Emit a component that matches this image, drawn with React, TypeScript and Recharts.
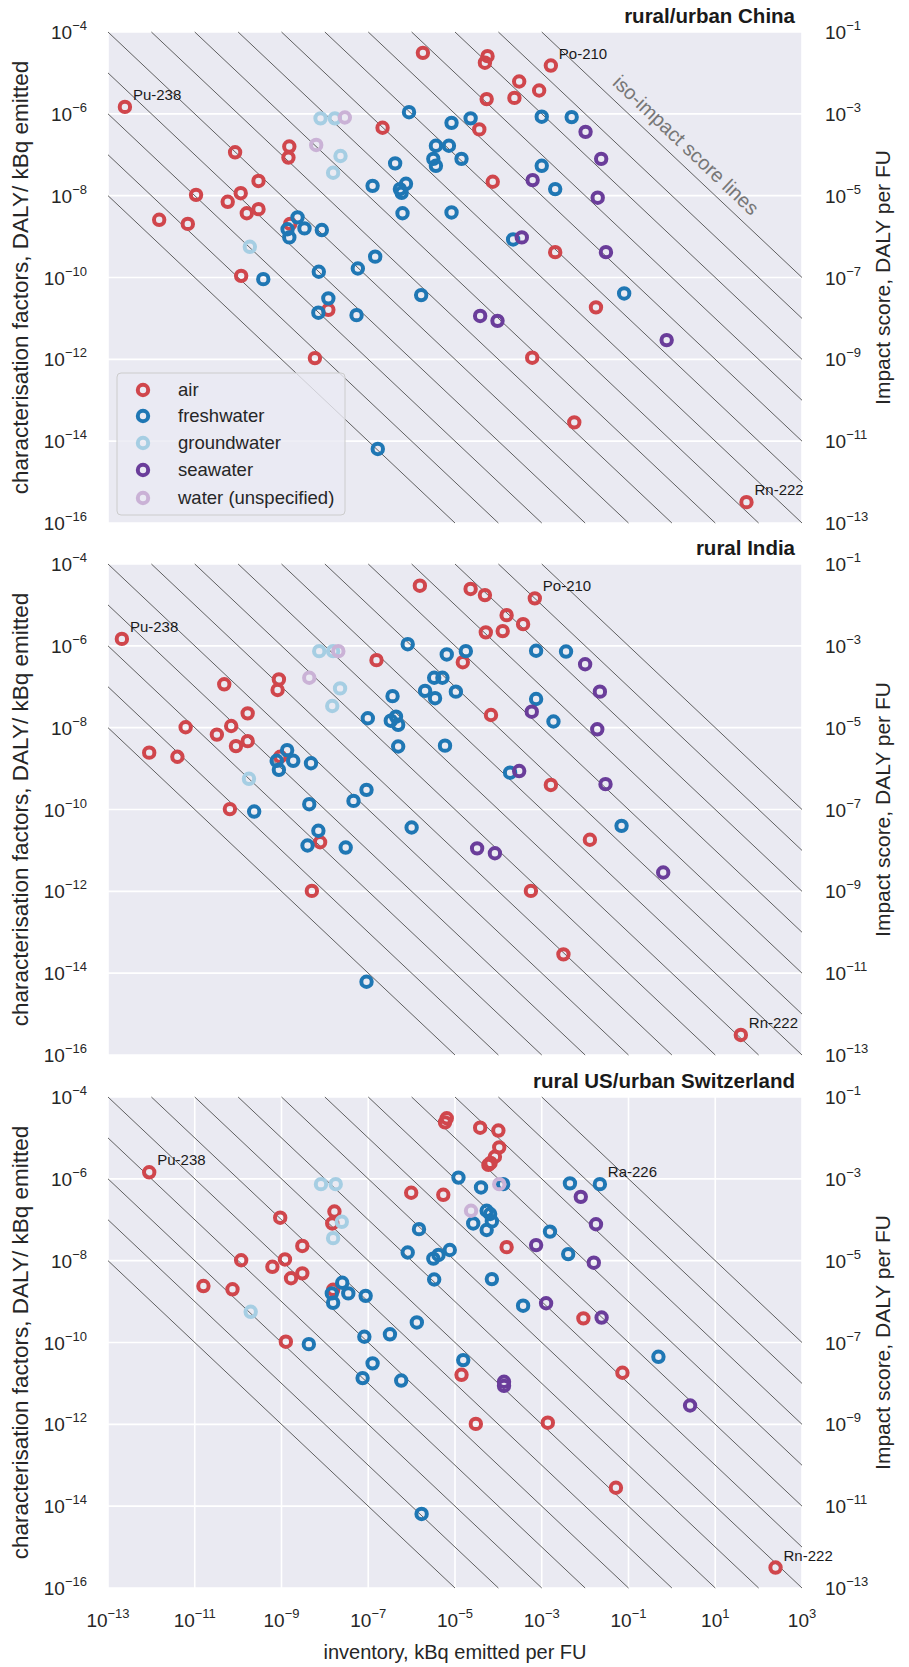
import React from "react";
import { CartesianGrid, Scatter, ScatterChart, XAxis, YAxis } from "recharts";

// each point: [log10 inventory (kBq per FU), log10 characterisation factor (DALY/kBq)]
type Pt = [number, number];

const xTicks = [-13, -11, -9, -7, -5, -3, -1, 1, 3];
const cfTicks = [-16, -14, -12, -10, -8, -6, -4];
const impactTicks = [-13, -11, -9, -7, -5, -3, -1];
// iso-impact score lines: inventory x CF = 10^k
const isoImpactExponents = [-21, -20, -19, -18, -17, -16, -15, -14, -13, -12, -11, -10, -9, -8, -7];

// --- rural/urban China ---
const chinaAir: Pt[] = [
  [-12.61, -5.83], [-2.79, -4.82], [1.72, -15.49],
  [-5.74, -4.51], [-4.25, -4.59], [-4.31, -4.75], [-4.27, -5.64], [-3.52, -5.21], [-3.06, -5.43],
  [-3.63, -5.61], [-6.67, -6.34], [-4.44, -6.38], [-10.07, -6.94], [-8.82, -6.8], [-8.84, -7.07],
  [-4.13, -7.66], [-9.53, -7.64], [-10.97, -7.98], [-9.94, -7.94], [-10.24, -8.15], [-9.8, -8.43],
  [-9.53, -8.33], [-11.82, -8.59], [-11.16, -8.69], [-8.8, -8.69], [-9.93, -9.96], [-7.92, -10.79],
  [-8.23, -11.97], [-2.69, -9.38], [-1.75, -10.73], [-3.22, -11.96], [-2.25, -13.54],
];
const chinaFresh: Pt[] = [
  [-6.06, -5.96], [-5.08, -6.22], [-4.64, -6.11], [-5.44, -6.78], [-5.14, -6.78], [-5.5, -7.1],
  [-5.44, -7.27], [-4.85, -7.1], [-6.38, -7.21], [-6.9, -7.76], [-6.27, -7.84], [-6.13, -7.71],
  [-6.23, -7.93], [-6.21, -8.43], [-5.08, -8.41], [-8.63, -8.53], [-8.86, -8.82], [-8.47, -8.8],
  [-8.82, -9.02], [-8.07, -8.84], [-6.84, -9.49], [-8.14, -9.86], [-7.24, -9.78], [-9.42, -10.04],
  [-7.92, -10.51], [-8.15, -10.86], [-7.27, -10.92], [-5.78, -10.43], [-6.78, -14.19], [-3.0, -6.07],
  [-2.31, -6.08], [-3.0, -7.27], [-2.69, -7.84], [-3.66, -9.07], [-1.1, -10.39],
];
const chinaGround: Pt[] = [[-8.1, -6.11], [-7.77, -6.11], [-7.64, -7.03], [-7.81, -7.44], [-9.73, -9.25]];
const chinaSea: Pt[] = [
  [-1.99, -6.44], [-1.63, -7.1], [-3.21, -7.62], [-1.71, -8.05], [-3.46, -9.02], [-1.52, -9.38],
  [-4.42, -10.94], [-4.02, -11.06], [-0.12, -11.53],
];
const chinaWater: Pt[] = [[-7.54, -6.09], [-8.2, -6.76]];

// --- rural India ---
const indiaAir: Pt[] = [
  [-12.68, -5.83], [-3.16, -4.84], [1.59, -15.51],
  [-5.81, -4.53], [-4.64, -4.61], [-4.31, -4.76], [-4.29, -5.67], [-3.81, -5.25], [-3.43, -5.47],
  [-3.9, -5.64], [-6.81, -6.35], [-4.82, -6.4], [-10.32, -6.94], [-9.06, -6.82], [-9.09, -7.08],
  [-4.17, -7.69], [-9.78, -7.65], [-11.21, -7.99], [-10.16, -7.96], [-10.49, -8.17], [-9.78, -8.33],
  [-10.05, -8.45], [-12.05, -8.61], [-11.4, -8.71], [-9.03, -8.71], [-10.19, -9.99], [-8.11, -10.8],
  [-8.3, -11.99], [-2.79, -9.4], [-1.89, -10.74], [-3.25, -11.99], [-2.5, -13.54],
];
const indiaFresh: Pt[] = [
  [-6.09, -5.96], [-5.19, -6.21], [-4.75, -6.13], [-5.48, -6.78], [-5.29, -6.78], [-5.69, -7.1],
  [-5.46, -7.28], [-4.98, -7.12], [-6.44, -7.23], [-7.01, -7.77], [-6.48, -7.83], [-6.36, -7.73],
  [-6.31, -7.93], [-6.31, -8.46], [-5.23, -8.44], [-8.87, -8.55], [-9.11, -8.81], [-8.73, -8.81],
  [-9.06, -9.03], [-8.32, -8.87], [-7.04, -9.52], [-8.36, -9.87], [-7.34, -9.79], [-9.63, -10.05],
  [-6.0, -10.44], [-8.15, -10.52], [-8.4, -10.88], [-7.52, -10.93], [-7.04, -14.21], [-3.13, -6.12],
  [-2.44, -6.14], [-3.13, -7.3], [-2.73, -7.85], [-3.73, -9.1], [-1.16, -10.4],
];
const indiaGround: Pt[] = [[-8.13, -6.13], [-7.81, -6.13], [-7.65, -7.04], [-7.83, -7.47], [-9.75, -9.25]];
const indiaSea: Pt[] = [
  [-2.0, -6.45], [-1.66, -7.12], [-3.23, -7.61], [-1.72, -8.04], [-3.52, -9.06], [-1.53, -9.38],
  [-4.49, -10.95], [-4.08, -11.07], [-0.2, -11.54],
];
const indiaWater: Pt[] = [[-7.69, -6.13], [-8.36, -6.78]];

// --- rural US/urban Switzerland ---
const swissAir: Pt[] = [
  [-12.05, -5.84], [2.39, -15.5],
  [-5.19, -4.52], [-5.23, -4.62], [-4.42, -4.75], [-4.0, -4.82], [-3.98, -5.23], [-4.08, -5.46],
  [-4.23, -5.66], [-4.18, -5.61], [-6.01, -6.34], [-5.27, -6.39], [-9.03, -6.95], [-7.78, -6.8],
  [-7.83, -7.09], [-8.52, -7.64], [-9.93, -7.99], [-8.92, -7.97], [-9.21, -8.15], [-8.52, -8.31],
  [-8.78, -8.43], [-10.8, -8.62], [-10.13, -8.7], [-7.81, -8.71], [-8.9, -9.98], [-3.81, -7.67],
  [-2.04, -9.41], [-4.85, -10.79], [-4.52, -11.99], [-1.14, -10.74], [-2.86, -11.96], [-1.29, -13.55],
];
const swissFresh: Pt[] = [
  [-1.66, -6.13],
  [-4.92, -5.97], [-4.4, -6.21], [-3.89, -6.13], [-2.35, -6.11], [-4.27, -6.78], [-4.19, -6.86],
  [-4.58, -7.09], [-4.27, -7.25], [-4.15, -7.04], [-2.81, -7.29], [-2.39, -7.84], [-4.15, -8.45],
  [-3.43, -9.1], [-0.31, -10.35], [-5.83, -7.23], [-6.09, -7.8], [-5.5, -7.95], [-5.38, -7.86],
  [-5.12, -7.74], [-5.48, -8.46], [-7.6, -8.54], [-7.84, -8.8], [-7.46, -8.8], [-7.81, -9.03],
  [-7.06, -8.86], [-5.88, -9.51], [-6.5, -9.8], [-7.09, -9.86], [-8.37, -10.04], [-6.9, -10.51],
  [-7.13, -10.87], [-6.24, -10.93], [-4.81, -10.43], [-5.77, -14.19],
];
const swissGround: Pt[] = [[-8.09, -6.13], [-7.75, -6.13], [-7.61, -7.05], [-7.81, -7.45], [-9.71, -9.25]];
const swissSea: Pt[] = [
  [-2.1, -6.44], [-1.75, -7.11], [-3.13, -7.62], [-1.8, -8.05], [-2.9, -9.04], [-1.62, -9.39],
  [-3.87, -10.96], [-3.87, -11.06], [0.42, -11.54],
];
const swissWater: Pt[] = [[-4.63, -6.78], [-3.98, -6.13]];

const compartments = [
  { name: "air", color: "#d0464c" },
  { name: "freshwater", color: "#1f77b4" },
  { name: "groundwater", color: "#a6cee3" },
  { name: "seawater", color: "#6a3d9a" },
  { name: "water (unspecified)", color: "#cab2d6" },
];

const panels = [
  {
    title: "rural/urban China",
    top: 32,
    series: [chinaAir, chinaFresh, chinaGround, chinaSea, chinaWater],
    labels: [{ name: "Pu-238", pt: chinaAir[0] }, { name: "Po-210", pt: chinaAir[1] }, { name: "Rn-222", pt: chinaAir[2] }],
  },
  {
    title: "rural India",
    top: 564,
    series: [indiaAir, indiaFresh, indiaGround, indiaSea, indiaWater],
    labels: [{ name: "Pu-238", pt: indiaAir[0] }, { name: "Po-210", pt: indiaAir[1] }, { name: "Rn-222", pt: indiaAir[2] }],
  },
  {
    title: "rural US/urban Switzerland",
    top: 1097,
    series: [swissAir, swissFresh, swissGround, swissSea, swissWater],
    labels: [{ name: "Pu-238", pt: swissAir[0] }, { name: "Ra-226", pt: swissFresh[0] }, { name: "Rn-222", pt: swissAir[1] }],
  },
];

const FONT = "'Liberation Sans', Arial, Helvetica, sans-serif";
const INK = "#262626";
const PLOT_H = 491;
const PAD_TOP = 30;

const expText = (e: number) => (e < 0 ? "\u2212" + Math.abs(e) : String(e));

const Pow = ({ x, y, e, anchor }: { x: number; y: number; e: number; anchor: "start" | "middle" | "end" }) => (
  <text x={x} y={y} textAnchor={anchor} fontSize={19} fill={INK} fontFamily={FONT}>
    10
    <tspan dy={-9} fontSize={13}>
      {expText(e)}
    </tspan>
  </text>
);

const LeftTick = (p: any) => <Pow x={p.x - 21} y={p.y + 7} e={p.payload.value} anchor="end" />;
const RightTick = (p: any) => <Pow x={p.x + 23} y={p.y + 7} e={p.payload.value} anchor="start" />;
const BottomTick = (p: any) => <Pow x={p.x} y={p.y + 39} e={p.payload.value} anchor="middle" />;

const isoSegment = (k: number) => {
  const x0 = Math.max(-13, k + 4);
  const x1 = Math.min(3, k + 16);
  return [
    { x: x0, y: k - x0 },
    { x: x1, y: k - x1 },
  ];
};

const ring = (color: string) => (p: any) =>
  <circle cx={p.cx} cy={p.cy} r={5.2} fill="none" stroke={color} strokeWidth={4} />;

const noMark = () => <g />;

const nameLabel = (p: any) => (
  <text x={p.cx + 8} y={p.cy - 7} fontSize={15} fill="#1a1a1a" fontFamily={FONT}>
    {p.payload.name}
  </text>
);

const Panel = ({ panel, showX }: { panel: (typeof panels)[number]; showX: boolean }) => {
  const xAxisH = showX ? 40 : 1;
  const height = PAD_TOP + PLOT_H + xAxisH + 10;
  return (
    <div style={{ position: "absolute", left: 0, top: panel.top - PAD_TOP }}>
      <ScatterChart width={909} height={height} margin={{ top: PAD_TOP, right: 20, bottom: 10, left: 20 }}>
        <CartesianGrid fill="#eaeaf2" stroke="#ffffff" strokeWidth={1.6} />
        <XAxis
          type="number"
          dataKey="x"
          domain={[-13, 3]}
          ticks={xTicks}
          height={xAxisH}
          axisLine={false}
          tickLine={false}
          tickSize={0}
          tickMargin={0}
          tick={showX ? BottomTick : false}
        />
        <YAxis
          type="number"
          dataKey="y"
          domain={[-16, -4]}
          ticks={cfTicks}
          width={88}
          axisLine={false}
          tickLine={false}
          tickSize={0}
          tickMargin={0}
          tick={LeftTick}
        />
        <YAxis
          yAxisId="impact"
          orientation="right"
          type="number"
          domain={[-13, -1]}
          ticks={impactTicks}
          allowDataOverflow
          width={87}
          axisLine={false}
          tickLine={false}
          tickSize={0}
          tickMargin={0}
          tick={RightTick}
        />
        {isoImpactExponents.map((k) => (
          <Scatter
            key={"iso" + k}
            data={isoSegment(k)}
            line={{ stroke: "#505050", strokeWidth: 1, strokeOpacity: 0.9 }}
            shape={noMark}
            isAnimationActive={false}
            legendType="none"
          />
        ))}
        {compartments.map((c, i) => (
          <Scatter
            key={c.name}
            name={c.name}
            data={panel.series[i].map(([x, y]) => ({ x, y }))}
            shape={ring(c.color)}
            isAnimationActive={false}
          />
        ))}
        <Scatter
          data={panel.labels.map((l) => ({ x: l.pt[0], y: l.pt[1], name: l.name }))}
          shape={nameLabel}
          isAnimationActive={false}
          legendType="none"
        />
      </ScatterChart>
    </div>
  );
};

const legendRows = [390, 416, 443, 470, 498];

export default function App() {
  return (
    <div
      style={{
        position: "absolute",
        left: 0,
        top: 0,
        width: 909,
        height: 1667,
        background: "#ffffff",
        fontFamily: FONT,
      }}
    >
      {panels.map((p, i) => (
        <Panel key={p.title} panel={p} showX={i === panels.length - 1} />
      ))}
      <svg
        width={909}
        height={1667}
        style={{ position: "absolute", left: 0, top: 0, pointerEvents: "none" }}
        fontFamily={FONT}
      >
        {panels.map((p) => (
          <g key={p.title}>
            <text x={795} y={p.top - 9} textAnchor="end" fontSize={20.5} fontWeight="bold" fill="#1a1a1a">
              {p.title}
            </text>
            <text
              transform={`translate(20, ${p.top + PLOT_H / 2}) rotate(-90)`}
              textAnchor="middle"
              dominantBaseline="central"
              fontSize={22.5}
              fill={INK}
            >
              characterisation factors, DALY/ kBq emitted
            </text>
            <text
              transform={`translate(882, ${p.top + PLOT_H / 2}) rotate(-90)`}
              textAnchor="middle"
              dominantBaseline="central"
              fontSize={21}
              fill={INK}
            >
              Impact score, DALY per FU
            </text>
          </g>
        ))}
        <text x={455} y={1659} textAnchor="middle" fontSize={20} fill={INK}>
          inventory, kBq emitted per FU
        </text>
        <text
          transform="translate(686, 145) rotate(43.5)"
          textAnchor="middle"
          dominantBaseline="central"
          fontSize={20}
          fill="#777777"
        >
          iso-impact score lines
        </text>
        <rect x={117} y={373} width={228} height={142} rx={4} fill="#eaeaf2" fillOpacity={0.8} stroke="#cccccc" />
        {compartments.map((c, i) => (
          <g key={c.name}>
            <circle cx={143} cy={legendRows[i]} r={5.2} fill="none" stroke={c.color} strokeWidth={4} />
            <text x={178} y={legendRows[i] + 6} fontSize={18.5} fill={INK}>
              {c.name}
            </text>
          </g>
        ))}
      </svg>
    </div>
  );
}
